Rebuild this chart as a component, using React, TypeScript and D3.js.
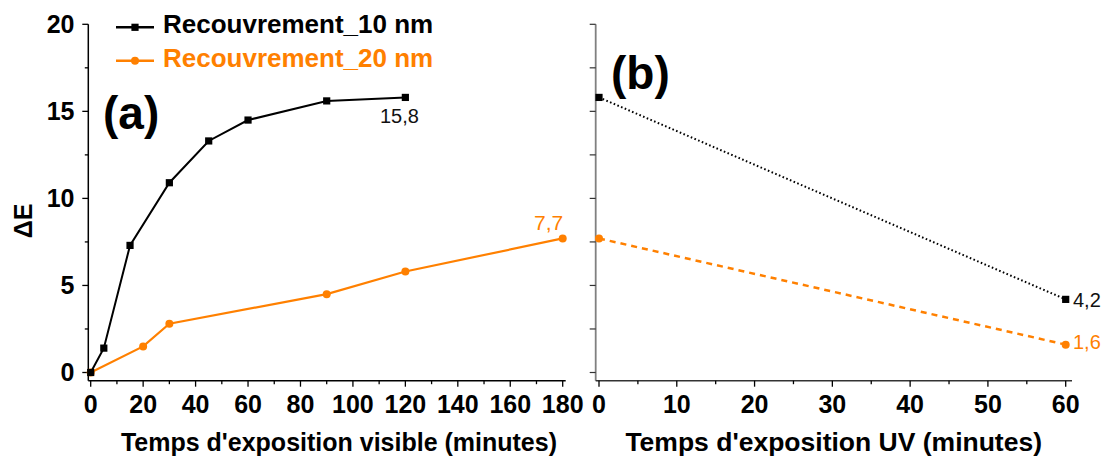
import React from "react";
import * as d3 from "d3";

const visX10 = [0, 5, 15, 30, 45, 60, 90, 120];
const visY10 = [0, 1.4, 7.3, 10.9, 13.3, 14.5, 15.6, 15.8];
const visX20 = [0, 20, 30, 90, 120, 180];
const visY20 = [0, 1.5, 2.8, 4.5, 5.8, 7.7];
const uvX = [0, 60];
const uvY10 = [15.8, 4.2];
const uvY20 = [7.7, 1.6];
const yTicks = [0, 5, 10, 15, 20];
const yMinor = [2.5, 7.5, 12.5, 17.5];
const visXTicks = [0, 20, 40, 60, 80, 100, 120, 140, 160, 180];
const visXMinor = [10, 30, 50, 70, 90, 110, 130, 150, 170];
const uvXTicks = [0, 10, 20, 30, 40, 50, 60];
const uvXMinor = [5, 15, 25, 35, 45, 55];
const seriesNames = ["Recouvrement_10 nm", "Recouvrement_20 nm"];
const endLabelsVis = ["15,8", "7,7"];
const endLabelsUV = ["4,2", "1,6"];

const BLACK = "#000";
const ORANGE = "#ff8000";
const FONT = "'Liberation Sans', Arial, sans-serif";

export default function App() {
  const ya = d3.scaleLinear().domain([0, 20]).range([372.5, 24.3]);
  const xa = d3.scaleLinear().domain([0, 180]).range([90.7, 562.7]);
  const xb = d3.scaleLinear().domain([0, 60]).range([599, 1065.7]);
  const axY = 380.7;
  const aLeft = 88.3, aRight = 565.7;
  const bLeft = 595.7, bRight = 1072;

  const blackLine = d3.line<number>().x((_, i) => xa(visX10[i])).y((d) => ya(d));
  const orangeLine = d3.line<number>().x((_, i) => xa(visX20[i])).y((d) => ya(d));
  const uvLine10 = d3.line<number>().x((_, i) => xb(uvX[i])).y((d) => ya(d));
  const uvLine20 = d3.line<number>().x((_, i) => xb(uvX[i])).y((d) => ya(d));

  const sq = (x: number, y: number, k: string) => (
    <rect key={k} x={x - 3.6} y={y - 3.6} width={7.2} height={7.2} fill={BLACK} />
  );
  const dot = (x: number, y: number, k: string) => (
    <circle key={k} cx={x} cy={y} r={4} fill={ORANGE} />
  );

  return (
    <svg width={1106} height={461} style={{ position: "absolute", left: 0, top: 0, background: "#fff" }} fontFamily={FONT}>
      {/* Panel a axes */}
      <line x1={aLeft} x2={aLeft} y1={24.3} y2={axY} stroke="#000" strokeWidth={1.5} />
      <line x1={aLeft} x2={aRight} y1={axY} y2={axY} stroke="#000" strokeWidth={1.5} />
      {yTicks.map((t) => (
        <g key={"ya" + t}>
          <line x1={aLeft - 6} x2={aLeft} y1={ya(t)} y2={ya(t)} stroke="#000" strokeWidth={1.3} />
          <text x={74.5} y={ya(t)} dy="0.35em" textAnchor="end" fontSize={25} fontWeight="bold">{t}</text>
        </g>
      ))}
      {yMinor.map((t) => (
        <line key={"yam" + t} x1={aLeft - 3.5} x2={aLeft} y1={ya(t)} y2={ya(t)} stroke="#000" strokeWidth={1.3} />
      ))}
      {visXTicks.map((t) => (
        <g key={"xa" + t}>
          <line x1={xa(t)} x2={xa(t)} y1={axY} y2={axY + 6} stroke="#000" strokeWidth={1.3} />
          <text x={xa(t)} y={413} textAnchor="middle" fontSize={25} fontWeight="bold">{t}</text>
        </g>
      ))}
      {visXMinor.map((t) => (
        <line key={"xam" + t} x1={xa(t)} x2={xa(t)} y1={axY} y2={axY + 3.5} stroke="#000" strokeWidth={1.3} />
      ))}
      <text x={557} y={451} textAnchor="end" fontSize={25} fontWeight="bold">Temps d'exposition visible (minutes)</text>
      <text transform="translate(32,221) rotate(-90)" textAnchor="middle" fontSize={25} fontWeight="bold">ΔE</text>

      {/* Panel b axes */}
      <line x1={bLeft} x2={bLeft} y1={24.3} y2={axY} stroke="#808080" strokeWidth={1.8} />
      <line x1={bLeft} x2={bRight} y1={axY} y2={axY} stroke="#333" strokeWidth={1.5} />
      {yTicks.concat(yMinor).map((t) => (
        <line key={"yb" + t} x1={bLeft - 6} x2={bLeft} y1={ya(t)} y2={ya(t)} stroke="#333" strokeWidth={1.2} />
      ))}
      {uvXTicks.map((t) => (
        <g key={"xb" + t}>
          <line x1={xb(t)} x2={xb(t)} y1={axY} y2={axY + 6} stroke="#000" strokeWidth={1.3} />
          <text x={xb(t)} y={413} textAnchor="middle" fontSize={25} fontWeight="bold">{t}</text>
        </g>
      ))}
      {uvXMinor.map((t) => (
        <line key={"xbm" + t} x1={xb(t)} x2={xb(t)} y1={axY} y2={axY + 3.5} stroke="#000" strokeWidth={1.3} />
      ))}
      <text x={1042} y={451} textAnchor="end" fontSize={26.5} fontWeight="bold">Temps d'exposition UV (minutes)</text>

      {/* Panel a data */}
      <path d={orangeLine(visY20) || ""} fill="none" stroke={ORANGE} strokeWidth={2.2} />
      {visY20.map((v, i) => dot(xa(visX20[i]), ya(v), "oa" + i))}
      <path d={blackLine(visY10) || ""} fill="none" stroke={BLACK} strokeWidth={2} />
      {visY10.map((v, i) => sq(xa(visX10[i]), ya(v), "ba" + i))}
      <text x={380} y={123} fontSize={20} fill="#111">{endLabelsVis[0]}</text>
      <text x={534} y={230} fontSize={21} fill={ORANGE}>{endLabelsVis[1]}</text>

      {/* Panel b data */}
      <path d={uvLine10(uvY10) || ""} fill="none" stroke={BLACK} strokeWidth={2} strokeDasharray="1.6 2.4" />
      {uvY10.map((v, i) => sq(xb(uvX[i]), ya(v), "bb" + i))}
      <path d={uvLine20(uvY20) || ""} fill="none" stroke={ORANGE} strokeWidth={2.5} strokeDasharray="6 5" />
      {uvY20.map((v, i) => dot(xb(uvX[i]), ya(v), "ob" + i))}
      <text x={1073} y={307} fontSize={20} fill="#111">{endLabelsUV[0]}</text>
      <text x={1073} y={349} fontSize={20} fill={ORANGE}>{endLabelsUV[1]}</text>

      {/* Labels (a) (b) */}
      <text x={103} y={129} fontSize={46} fontWeight="bold">(a)</text>
      <text x={611} y={89} fontSize={46} fontWeight="bold">(b)</text>

      {/* Legend */}
      <line x1={116} x2={154} y1={27.3} y2={27.3} stroke={BLACK} strokeWidth={2.5} />
      {sq(135, 27.3, "lg0")}
      <text x={163} y={33} fontSize={26} fontWeight="bold" fill={BLACK}>{seriesNames[0]}</text>
      <line x1={116} x2={154} y1={60.7} y2={60.7} stroke={ORANGE} strokeWidth={2.5} />
      {dot(135, 60.7, "lg1")}
      <text x={163} y={66.5} fontSize={26} fontWeight="bold" fill={ORANGE}>{seriesNames[1]}</text>
    </svg>
  );
}
